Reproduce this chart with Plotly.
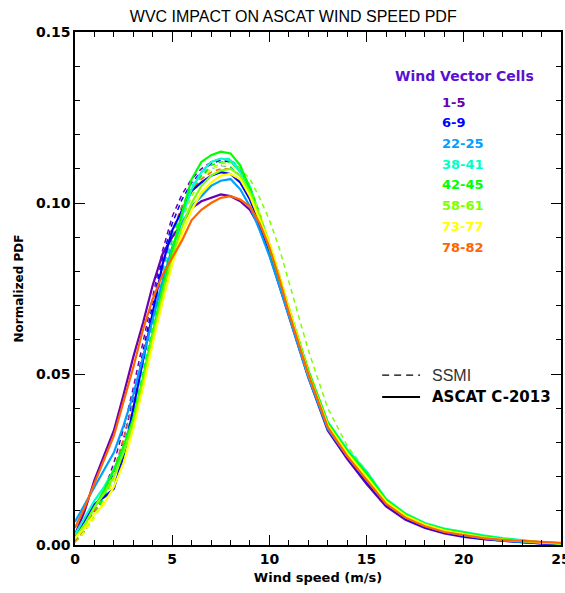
import plotly.graph_objects as go

# --- wind speed grid (m/s)
wind = [0, 0.5, 1, 1.5, 2, 2.5, 3, 3.5, 4, 4.5, 5, 5.5, 6, 6.5, 7, 7.5, 8, 8.5, 9, 9.5,
        10, 10.5, 11, 11.5, 12, 13, 14, 15, 16, 17, 18, 19, 20, 21, 22, 23, 24, 25]

cells = ["1-5", "6-9", "22-25", "38-41", "42-45", "58-61", "73-77", "78-82"]
colors = ["#6a00b0", "#0000ff", "#00a0ff", "#00ffc8", "#00ff00", "#80ff00", "#ffff00", "#ff6400"]

# --- ASCAT C-2013 (solid)
asc_1_5 = [0.003, 0.010, 0.019, 0.026, 0.0335, 0.044, 0.055, 0.065, 0.076, 0.085, 0.090, 0.094, 0.0985, 0.1005,
           0.1015, 0.1025, 0.102, 0.1005, 0.098, 0.093, 0.085, 0.076, 0.067, 0.058, 0.049, 0.0335, 0.0252, 0.0178,
           0.0113, 0.0074, 0.005, 0.0034, 0.0024, 0.0017, 0.0012, 0.0008, 0.0005, 0.0003]
asc_6_9 = [0.0025, 0.007, 0.012, 0.014, 0.0165, 0.026, 0.040, 0.054, 0.068, 0.082, 0.092, 0.098, 0.1035, 0.106,
           0.108, 0.109, 0.1085, 0.106, 0.101, 0.094, 0.0855, 0.0765, 0.0675, 0.0585, 0.0495, 0.034, 0.0258, 0.0185,
           0.0118, 0.0078, 0.0053, 0.0037, 0.0026, 0.0018, 0.0012, 0.0008, 0.0005, 0.0003]
asc_22_25 = [0.0068, 0.012, 0.017, 0.022, 0.027, 0.035, 0.044, 0.055, 0.066, 0.077, 0.087, 0.094, 0.099, 0.102,
             0.105, 0.1065, 0.107, 0.104, 0.099, 0.092, 0.0845, 0.076, 0.067, 0.058, 0.049, 0.034, 0.026, 0.019,
             0.0122, 0.008, 0.0056, 0.0039, 0.0028, 0.002, 0.0013, 0.0009, 0.0006, 0.0004]
asc_38_41 = [0.003, 0.008, 0.013, 0.017, 0.022, 0.028, 0.036, 0.048, 0.061, 0.074, 0.086, 0.096, 0.104, 0.109,
             0.112, 0.113, 0.1125, 0.109, 0.103, 0.095, 0.087, 0.078, 0.069, 0.060, 0.051, 0.036, 0.028, 0.0215,
             0.0135, 0.0092, 0.0064, 0.0048, 0.0037, 0.0028, 0.002, 0.0013, 0.0008, 0.0005]
asc_42_45 = [0.002, 0.006, 0.011, 0.016, 0.022, 0.029, 0.037, 0.049, 0.062, 0.075, 0.086, 0.097, 0.107, 0.112,
             0.114, 0.115, 0.1145, 0.111, 0.104, 0.0955, 0.087, 0.078, 0.069, 0.060, 0.051, 0.0358, 0.0275, 0.021,
             0.0132, 0.009, 0.0062, 0.0046, 0.0035, 0.0026, 0.0018, 0.0012, 0.0008, 0.0005]
asc_58_61 = [0.002, 0.006, 0.011, 0.015, 0.020, 0.027, 0.036, 0.048, 0.061, 0.073, 0.084, 0.093, 0.100, 0.105,
             0.108, 0.1095, 0.110, 0.108, 0.103, 0.096, 0.088, 0.0785, 0.069, 0.0595, 0.0505, 0.0352, 0.027, 0.020,
             0.0128, 0.0087, 0.006, 0.0043, 0.0032, 0.0023, 0.0016, 0.0011, 0.0007, 0.0004]
asc_73_77 = [0.002, 0.005, 0.009, 0.012, 0.017, 0.024, 0.034, 0.046, 0.059, 0.071, 0.082, 0.091, 0.098, 0.103,
             0.106, 0.108, 0.1085, 0.107, 0.102, 0.095, 0.088, 0.0785, 0.069, 0.0595, 0.050, 0.035, 0.0268, 0.0198,
             0.0126, 0.0085, 0.0059, 0.0042, 0.0031, 0.0022, 0.0016, 0.0011, 0.0008, 0.0005]
asc_78_82 = [0.005, 0.011, 0.018, 0.025, 0.032, 0.042, 0.052, 0.063, 0.072, 0.079, 0.084, 0.089, 0.095, 0.098,
             0.100, 0.1015, 0.102, 0.101, 0.099, 0.094, 0.087, 0.078, 0.068, 0.059, 0.050, 0.0345, 0.026, 0.019,
             0.012, 0.008, 0.0055, 0.0038, 0.0028, 0.002, 0.0015, 0.0011, 0.0009, 0.0006]

# --- SSMI (dashed)
ssmi_1_5 = [0.0008, 0.004, 0.010, 0.016, 0.024, 0.034, 0.046, 0.059, 0.073, 0.086, 0.096, 0.1025, 0.107, 0.110,
            0.112, 0.113, 0.1125, 0.110, 0.104, 0.096, 0.087, 0.078, 0.068, 0.059, 0.050, 0.0345, 0.026, 0.019,
            0.012, 0.0078, 0.0053, 0.0036, 0.0025, 0.0018, 0.0012, 0.0008, 0.0005, 0.0003]
ssmi_6_9 = [0.0008, 0.004, 0.009, 0.014, 0.021, 0.031, 0.043, 0.057, 0.071, 0.084, 0.094, 0.101, 0.106, 0.109,
            0.1115, 0.1125, 0.112, 0.1095, 0.104, 0.096, 0.087, 0.078, 0.068, 0.059, 0.050, 0.0345, 0.026, 0.019,
            0.012, 0.0079, 0.0054, 0.0037, 0.0026, 0.0018, 0.0012, 0.0008, 0.0005, 0.0003]
ssmi_22_25 = [0.001, 0.004, 0.009, 0.014, 0.020, 0.029, 0.040, 0.053, 0.067, 0.080, 0.091, 0.099, 0.104, 0.108,
              0.110, 0.111, 0.1105, 0.108, 0.103, 0.096, 0.087, 0.078, 0.069, 0.059, 0.050, 0.035, 0.0265, 0.0195,
              0.0124, 0.0082, 0.0057, 0.004, 0.0029, 0.002, 0.0014, 0.0009, 0.0006, 0.0004]
ssmi_38_41 = [0.001, 0.005, 0.009, 0.014, 0.020, 0.028, 0.038, 0.051, 0.065, 0.078, 0.090, 0.099, 0.105, 0.109,
              0.112, 0.113, 0.113, 0.110, 0.105, 0.097, 0.088, 0.079, 0.069, 0.060, 0.051, 0.0358, 0.0275, 0.0208,
              0.0132, 0.009, 0.0063, 0.0046, 0.0035, 0.0026, 0.0018, 0.0012, 0.0008, 0.0005]
ssmi_42_45 = [0.0008, 0.004, 0.009, 0.014, 0.020, 0.028, 0.038, 0.050, 0.064, 0.077, 0.089, 0.098, 0.104, 0.108,
              0.111, 0.112, 0.112, 0.110, 0.105, 0.097, 0.088, 0.079, 0.069, 0.060, 0.051, 0.0355, 0.0272, 0.0205,
              0.013, 0.0088, 0.0061, 0.0045, 0.0034, 0.0025, 0.0017, 0.0012, 0.0008, 0.0005]
ssmi_58_61 = [0.0008, 0.004, 0.008, 0.013, 0.019, 0.026, 0.035, 0.047, 0.060, 0.073, 0.085, 0.095, 0.102, 0.107,
              0.110, 0.1115, 0.112, 0.110, 0.107, 0.1015, 0.095, 0.087, 0.077, 0.067, 0.057, 0.040, 0.029, 0.0215,
              0.0135, 0.009, 0.0062, 0.0045, 0.0034, 0.0025, 0.0017, 0.0012, 0.0008, 0.0005]
ssmi_73_77 = [0.0008, 0.004, 0.008, 0.013, 0.019, 0.027, 0.037, 0.049, 0.062, 0.075, 0.087, 0.096, 0.103, 0.107,
              0.110, 0.111, 0.111, 0.109, 0.104, 0.097, 0.089, 0.080, 0.070, 0.061, 0.052, 0.036, 0.0275, 0.020,
              0.0128, 0.0086, 0.006, 0.0043, 0.0032, 0.0023, 0.0016, 0.0011, 0.0008, 0.0005]
ssmi_78_82 = [0.001, 0.005, 0.010, 0.015, 0.022, 0.031, 0.042, 0.055, 0.068, 0.081, 0.092, 0.099, 0.104, 0.107,
              0.109, 0.110, 0.110, 0.108, 0.103, 0.096, 0.088, 0.079, 0.069, 0.060, 0.051, 0.035, 0.027, 0.0195,
              0.0125, 0.0083, 0.0057, 0.004, 0.0029, 0.0021, 0.0015, 0.0011, 0.0008, 0.0005]

ascat = [asc_1_5, asc_6_9, asc_22_25, asc_38_41, asc_42_45, asc_58_61, asc_73_77, asc_78_82]
ssmi = [ssmi_1_5, ssmi_6_9, ssmi_22_25, ssmi_38_41, ssmi_42_45, ssmi_58_61, ssmi_73_77, ssmi_78_82]

fig = go.Figure()

# dashed SSMI curves first, ASCAT solid on top
for ys, c in zip(ssmi, colors):
    fig.add_trace(go.Scatter(x=wind, y=ys, mode="lines", showlegend=False,
                             line=dict(color=c, width=1.5, dash="5px,4px")))
for ys, c in zip(ascat, colors):
    fig.add_trace(go.Scatter(x=wind, y=ys, mode="lines", showlegend=False,
                             line=dict(color=c, width=2.2)))

THIN = "Liberation Sans"
WIDE = "DejaVu Sans"

axis_common = dict(showline=True, linecolor="black", linewidth=1.5, mirror="ticks",
                   ticks="inside", tickcolor="black", tickwidth=1.2, ticklen=10,
                   showgrid=False, zeroline=False, automargin=False, ticklabeloverflow="allow",
                   tickfont=dict(family=WIDE, size=14, color="black", weight="bold"))

fig.update_xaxes(range=[0, 25], dtick=5,
                 minor=dict(dtick=1, ticks="inside", ticklen=5, tickcolor="black", tickwidth=1.2, showgrid=False),
                 title=dict(text="Wind speed (m/s)", font=dict(family=WIDE, size=13, color="black", weight="bold"),
                            standoff=7),
                 **axis_common)
fig.update_yaxes(range=[0, 0.15], dtick=0.05, tickformat=".2f",
                 minor=dict(dtick=0.01, ticks="inside", ticklen=5, tickcolor="black", tickwidth=1.2, showgrid=False),
                 title=dict(text="Normalized PDF", font=dict(family=WIDE, size=12, color="black", weight="bold"),
                            standoff=10),
                 **axis_common)

# legend: colour key for the wind vector cells
annotations = [dict(text="Wind Vector Cells", x=0.802, y=0.914, xref="paper", yref="paper",
                    xanchor="center", yanchor="middle", showarrow=False,
                    font=dict(family=WIDE, size=14, color="#5a10d0", weight="bold"))]
for i, (lab, c) in enumerate(zip(cells, colors)):
    annotations.append(dict(text=lab, x=0.751, y=0.8635 - i * 0.0404, xref="paper", yref="paper",
                            xanchor="left", yanchor="middle", showarrow=False,
                            font=dict(family=WIDE, size=13, color=c, weight="bold")))
annotations.append(dict(text="SSMI", x=0.730, y=0.331, xref="paper", yref="paper", xanchor="left",
                        yanchor="middle", showarrow=False, font=dict(family=THIN, size=16, color="#333333")))
annotations.append(dict(text="ASCAT C-2013", x=0.730, y=0.2885, xref="paper", yref="paper", xanchor="left",
                        yanchor="middle", showarrow=False,
                        font=dict(family=WIDE, size=15, color="black", weight="bold")))

shapes = [
    dict(type="line", xref="paper", yref="paper", x0=0.632, x1=0.710, y0=0.331, y1=0.331,
         line=dict(color="black", width=1.2, dash="7px,5px")),
    dict(type="line", xref="paper", yref="paper", x0=0.632, x1=0.710, y0=0.2885, y1=0.2885,
         line=dict(color="black", width=2)),
]

fig.update_layout(
    width=565, height=593,
    margin=dict(l=75, r=4, t=32, b=48, autoexpand=False),
    paper_bgcolor="white", plot_bgcolor="white",
    title=dict(text="WVC IMPACT ON ASCAT WIND SPEED PDF", x=0.519, xanchor="center", y=0.972,
               yanchor="middle", font=dict(family=THIN, size=16, color="black")),
    annotations=annotations, shapes=shapes,
    showlegend=False,
)

# drop the default page margin so the figure sits at the window origin
fig.write_html("out.html", config={"displayModeBar": False},
               post_script="document.body.style.margin='0';document.body.style.overflow='hidden';")
